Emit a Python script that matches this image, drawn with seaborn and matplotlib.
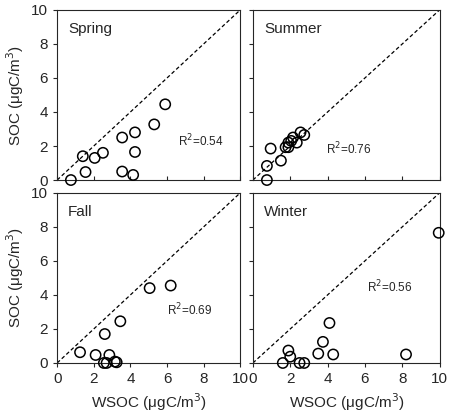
import matplotlib
matplotlib.use('Agg')
import matplotlib.pyplot as plt
import seaborn as sns
import pandas as pd

spring_x = [0.75, 1.4, 1.55, 2.05, 2.5, 3.55, 3.55, 4.25, 4.25, 4.15, 5.3, 5.9]
spring_y = [0.0, 1.4, 0.47, 1.3, 1.6, 2.5, 0.5, 2.8, 1.65, 0.3, 3.27, 4.45]
summer_x = [0.75, 0.75, 0.95, 1.5, 1.75, 1.9, 1.9, 2.15, 2.05, 2.35, 2.55, 2.75]
summer_y = [0.0, 0.83, 1.85, 1.14, 1.93, 1.93, 2.2, 2.5, 2.3, 2.2, 2.8, 2.65]
fall_x = [1.25, 2.1, 2.6, 2.85, 2.55, 2.7, 3.15, 3.25, 3.45, 5.05, 6.2]
fall_y = [0.63, 0.47, 1.7, 0.47, 0.0, 0.0, 0.08, 0.04, 2.45, 4.4, 4.55]
winter_x = [1.6, 1.9, 2.0, 2.5, 2.75, 3.5, 3.75, 4.1, 4.3, 8.2, 9.95]
winter_y = [0.0, 0.73, 0.37, 0.0, 0.0, 0.55, 1.24, 2.35, 0.5, 0.5, 7.65]

seasons = ['Spring', 'Summer', 'Fall', 'Winter']
r2_text = ['R$^2$=0.54', 'R$^2$=0.76', 'R$^2$=0.69', 'R$^2$=0.56']
r2_pos = [(6.6, 2.3), (3.9, 1.8), (6.0, 3.1), (6.1, 4.45)]
xs = [spring_x, summer_x, fall_x, winter_x]
ys = [spring_y, summer_y, fall_y, winter_y]

sns.set_style('ticks')
plt.rcParams['font.family'] = ['Liberation Sans', 'DejaVu Sans']

fig = plt.figure(figsize=(4.5, 4.12), dpi=100)
rects = [(0.127, 0.563, 0.407, 0.413), (0.562, 0.563, 0.415, 0.413),
         (0.127, 0.119, 0.407, 0.413), (0.562, 0.119, 0.415, 0.413)]

for i, name in enumerate(seasons):
    ax = fig.add_axes(rects[i])
    df = pd.DataFrame({'WSOC': xs[i], 'SOC': ys[i]})
    sns.scatterplot(data=df, x='WSOC', y='SOC', ax=ax, marker='o', s=55,
                    facecolor='none', edgecolor='black', linewidth=1.1,
                    clip_on=False, zorder=3)
    ax.plot([0, 10], [0, 10], ls='--', color='black', lw=0.9, dashes=(3, 2))
    ax.set_xlim(0, 10)
    ax.set_ylim(0, 10)
    ax.set_xticks(range(0, 11, 2))
    ax.set_yticks(range(0, 11, 2))
    ax.text(0.6, 9.3, name, fontsize=11, va='top')
    ax.text(r2_pos[i][0], r2_pos[i][1], r2_text[i], fontsize=8.5, va='center')
    for s in ax.spines.values():
        s.set_visible(True)
        s.set_linewidth(0.8)
    ax.tick_params(labelsize=11, length=3)
    if i < 2:
        ax.set_xticklabels([])
        ax.tick_params(axis='x', direction='in')
        ax.set_xlabel('')
    else:
        ax.set_xlabel('WSOC (\u03bcgC/m$^3$)', fontsize=11)
    if i % 2 == 1:
        ax.set_yticklabels([])
        ax.set_ylabel('')
    else:
        ax.set_ylabel('SOC (\u03bcgC/m$^3$)', fontsize=11)

fig.savefig('out.png', dpi=100)
